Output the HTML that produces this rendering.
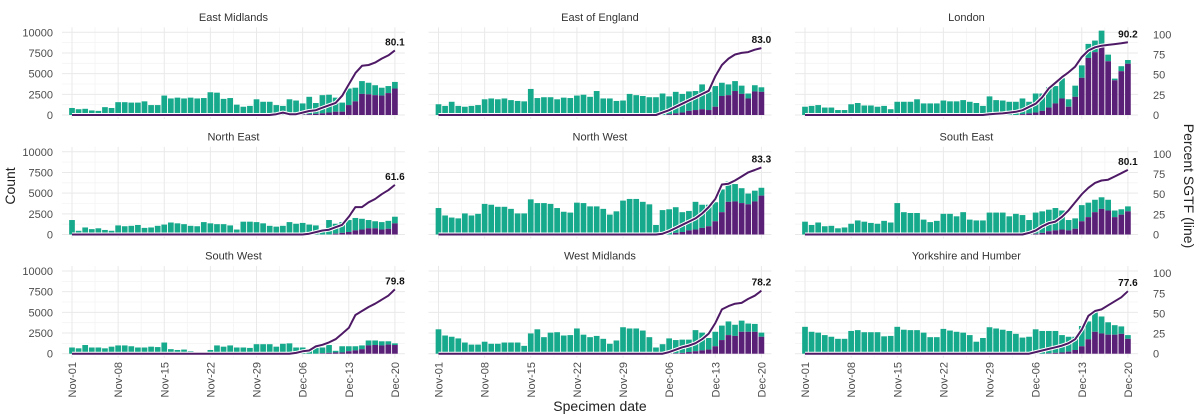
<!DOCTYPE html>
<html><head><meta charset="utf-8"><style>
html,body{margin:0;padding:0;background:#fff;}
svg{display:block;font-family:"Liberation Sans",sans-serif;}
</style></head><body>
<svg id="chart" width="1200" height="416" viewBox="0 0 1200 416" xmlns="http://www.w3.org/2000/svg">
<text x="0" y="0" transform="translate(15,186) rotate(-90)" text-anchor="middle" font-size="14" fill="#222">Count</text>
<text x="0" y="0" transform="translate(1184,186) rotate(90)" text-anchor="middle" font-size="14" fill="#222">Percent SGTF (line)</text>
<text x="600" y="411" text-anchor="middle" font-size="14" fill="#222">Specimen date</text>
</svg>
<script>
const regions = ["East Midlands","East of England","London","North East","North West","South East","South West","West Midlands","Yorkshire and Humber"];
const xTickLabels = ["Nov-01","Nov-08","Nov-15","Nov-22","Nov-29","Dec-06","Dec-13","Dec-20"];
const countTicks = [0,2500,5000,7500,10000];
const pctTicks = [0,25,50,75,100];
const finalLabels = ["80.1","83.0","90.2","61.6","83.3","80.1","79.8","78.2","77.6"];

// totals (thousands)
const totEM = [0.85,0.7,0.75,0.55,0.5,0.95,0.85,1.55,1.55,1.5,1.5,1.65,1.2,1.2,2.35,2.0,2.1,2.0,2.1,2.0,2.05,2.75,2.7,1.95,2.05,1.25,1.0,1.1,1.9,1.6,1.6,1.2,1.1,1.9,1.75,1.4,2.2,1.45,2.4,2.45,2.1,1.5,3.2,3.3,4.1,3.9,3.6,3.3,3.5,4.0];
const totEE = [1.3,1.1,1.6,1.1,1.0,1.1,1.2,1.9,2.0,1.9,2.0,1.8,1.7,1.65,3.15,2.05,2.15,2.15,1.9,2.1,2.05,2.35,2.45,2.2,2.9,2.0,2.0,1.7,1.75,2.55,2.4,2.3,2.15,2.15,2.6,2.25,2.8,2.55,2.85,2.9,3.7,2.8,3.5,3.9,3.7,4.1,3.55,2.6,3.6,3.35];
const totLO = [1.0,1.1,1.2,0.9,0.9,0.6,0.6,1.3,1.45,1.15,1.15,1.0,1.1,0.7,1.6,1.6,1.6,1.9,1.4,1.4,1.4,1.75,1.65,1.65,1.8,1.6,1.45,1.1,2.25,1.8,1.75,1.6,1.6,2.0,1.6,2.6,2.6,3.35,3.5,4.45,1.9,3.55,6.0,8.6,9.0,10.2,7.3,4.4,5.9,6.65];
const totNE = [1.75,0.45,0.85,0.65,0.75,0.55,0.45,1.1,1.0,1.05,1.15,0.8,0.85,1.05,1.2,1.45,1.35,1.25,1.05,1.0,1.5,1.35,1.25,1.25,1.1,0.6,1.55,1.55,1.5,1.35,1.05,0.95,1.05,1.5,1.3,1.4,1.2,1.1,0.65,1.75,1.3,1.5,1.75,2.0,1.9,1.75,1.6,1.5,1.65,2.15];
const totNW = [3.2,2.3,2.05,1.95,2.55,2.3,2.5,3.7,3.6,3.35,3.35,3.1,2.55,2.55,4.25,3.8,3.8,3.7,3.2,2.75,2.65,3.85,3.8,3.4,3.4,3.1,2.4,2.8,4.1,4.3,4.3,3.95,3.65,1.15,2.95,3.05,3.3,2.7,2.85,3.95,3.6,3.6,3.9,5.45,6.4,6.1,5.6,4.95,5.3,5.65];
const totSE = [1.55,1.15,1.45,1.0,1.05,0.75,0.85,1.3,1.7,1.55,1.4,1.3,1.65,1.45,3.8,2.7,2.6,2.6,1.8,1.5,1.65,2.5,2.5,2.2,2.7,1.8,1.7,1.7,2.65,2.65,2.65,2.2,2.5,2.35,1.75,2.65,2.8,3.0,3.2,2.9,1.75,1.95,3.55,3.85,4.2,4.5,4.2,2.9,3.05,3.4];
const totSW = [0.75,0.65,1.05,0.75,0.75,0.65,0.85,1.0,1.0,0.9,0.75,0.75,0.85,0.8,1.35,0.55,0.45,0.5,0.3,0.2,0.2,0.45,1.0,0.85,1.0,0.75,0.75,0.7,1.15,1.15,1.15,0.85,1.2,1.25,0.75,0.75,0.35,0.7,0.75,1.05,0.35,0.9,0.9,0.9,1.0,1.6,1.6,1.5,1.5,1.25];
const totWM = [2.95,2.2,2.05,1.85,1.35,1.1,1.1,1.45,1.2,1.2,1.35,1.35,1.35,0.95,2.45,2.95,2.0,2.55,2.6,2.2,2.25,3.05,2.3,2.0,2.15,1.8,1.2,1.6,3.2,3.05,3.05,2.8,2.0,0.75,1.15,1.85,1.65,1.7,1.7,2.85,2.55,1.9,2.65,3.4,3.9,3.5,4.0,3.65,3.6,2.55];
const totYH = [3.25,2.65,2.55,2.25,2.05,1.8,1.8,2.75,2.85,2.6,2.6,2.6,2.1,2.15,3.25,2.9,2.85,2.85,2.55,2.0,2.0,3.0,2.8,2.65,2.55,2.25,1.45,1.9,3.2,3.05,2.9,2.75,2.4,1.95,2.05,2.95,2.75,2.75,2.75,2.25,2.05,2.05,3.35,3.9,5.0,4.5,3.8,3.45,3.3,2.25];

// SGTF counts (thousands)
const sgEM = [0,0,0,0,0,0,0,0,0,0, 0,0,0,0,0,0,0,0,0,0, 0,0,0,0,0,0,0,0,0,0, 0,0,0,0,0, 0.05,0.1,0.15,0.2,0.3,0.4,0.4,1.2,1.65,2.55,2.5,2.4,2.35,2.65,3.2];
const sgEE = [0,0,0,0,0,0,0,0,0,0, 0,0,0,0,0,0,0,0,0,0, 0,0,0,0,0,0,0,0,0,0, 0,0,0,0,0, 0.1,0.2,0.3,0.5,0.6,0.7,0.6,1.0,2.3,2.4,2.9,2.55,2.0,2.85,2.8];
const sgLO = [0,0,0,0,0,0,0,0,0,0, 0,0,0,0,0,0,0,0,0,0, 0,0,0,0,0,0,0,0,0,0, 0,0,0, 0.1,0.2,0.3,0.5,0.9,1.4,2.0,1.0,2.2,4.5,6.9,7.6,8.6,6.5,4.2,5.3,6.2];
const sgNE = [0,0,0,0,0,0,0,0,0,0, 0,0,0,0,0,0,0,0,0,0, 0,0,0,0,0,0,0,0,0,0, 0,0,0,0,0,0,0,0,0,0, 0.1,0.2,0.3,0.5,0.6,0.75,0.75,0.6,0.7,1.35];
const sgNW = [0,0,0,0,0,0,0,0,0,0, 0,0,0,0,0,0,0,0,0,0, 0,0,0,0,0,0,0,0,0,0, 0,0,0,0,0,0, 0.2,0.3,0.5,0.6,0.8,1.0,1.6,2.7,3.95,4.0,3.8,3.65,4.0,4.7];
const sgSE = [0,0,0,0,0,0,0,0,0,0, 0,0,0,0,0,0,0,0,0,0, 0,0,0,0,0,0,0,0,0,0, 0,0,0,0,0, 0.1,0.2,0.4,0.5,0.6,0.5,0.7,1.6,2.1,2.7,3.1,2.9,2.1,2.4,2.8];
const sgSW = [0,0,0,0,0,0,0,0,0,0, 0,0,0,0,0,0,0,0,0,0, 0,0,0,0,0,0,0,0,0,0, 0,0,0,0,0,0,0,0, 0.05,0.1,0.15,0.15,0.3,0.4,0.55,1.0,1.05,1.0,1.1,1.05];
const sgWM = [0,0,0,0,0,0,0,0,0,0, 0,0,0,0,0,0,0,0,0,0, 0,0,0,0,0,0,0,0,0,0, 0,0,0,0,0,0, 0.05,0.1,0.2,0.3,0.4,0.5,0.9,1.65,2.25,2.15,2.65,2.65,2.65,2.05];
const sgYH = [0,0,0,0,0,0,0,0,0,0, 0,0,0,0,0,0,0,0,0,0, 0,0,0,0,0,0,0,0,0,0, 0,0,0,0,0,0,0, 0.05,0.1,0.15,0.25,0.45,0.9,1.75,2.65,2.45,2.3,2.3,2.4,1.8];

// percent SGTF line
const pcEM = [0,0,0,0,0,0,0,0,0,0, 0,0,0,0,0,0,0,0,0,0, 0,0,0,0,0,0,0,0,0,0, 0, 1,3,1,1,3,5,6,9,12,15,24,38,52,61,62,65,70,74,80.1];
const pcEE = [0,0,0,0,0,0,0,0,0,0, 0,0,0,0,0,0,0,0,0,0, 0,0,0,0,0,0,0,0,0,0, 0,0,0,0, 3,6,10,14,18,22,26,30,48,62,70,75,77,78,81,83.0];
const pcLO = [0,0,0,0,0,0,0,0,0,0, 0,0,0,0,0,0,0,0,0,0, 0,0,0,0,0,0,0,0, 1,1.5,2,3,4,6,10,14,22,33,40,47,53,60,72,80,84,86,87,88,89,90.2];
const pcNE = [0,0,0,0,0,0,0,0,0,0, 0,0,0,0,0,0,0,0,0,0, 0,0,0,0,0,0,0,0,0,0, 0,0,0,0,0,0, 1,3,5,6,9,12,22,34,34,40,44,50,55,61.6];
const pcNW = [0,0,0,0,0,0,0,0,0,0, 0,0,0,0,0,0,0,0,0,0, 0,0,0,0,0,0,0,0,0,0, 0,0,0,0, 1,4,8,12,16,20,26,34,44,62,63,67,72,77,80,83.3];
const pcSE = [0,0,0,0,0,0,0,0,0,0, 0,0,0,0,0,0,0,0,0,0, 0,0,0,0,0,0,0,0,0,0, 0,0,0,0, 2,5,10,14,16,22,30,40,50,58,64,67,68,72,76,80.1];
const pcSW = [0,0,0,0,0,0,0,0,0,0, 0,0,0,0,0,0,0,0,0,0, 0,0,0,0,0,0,0,0,0,0, 0,0,0,0, 1,3,4,9,11,14,18,25,32,48,53,58,62,67,72,79.8];
const pcWM = [0,0,0,0,0,0,0,0,0,0, 0,0,0,0,0,0,0,0,0,0, 0,0,0,0,0,0,0,0,0,0, 0,0,0,0,0, 2,5,8,10,13,18,25,38,55,59,62,63,68,72,78.2];
const pcYH = [0,0,0,0,0,0,0,0,0,0, 0,0,0,0,0,0,0,0,0,0, 0,0,0,0,0,0,0,0,0,0, 0,0,0,0,0, 2,4,6,8,10,13,18,30,47,53,55,60,65,70,77.6];

const totals = [totEM,totEE,totLO,totNE,totNW,totSE,totSW,totWM,totYH];
const sgtf = [sgEM,sgEE,sgLO,sgNE,sgNW,sgSE,sgSW,sgWM,sgYH];
const pcts = [pcEM,pcEE,pcLO,pcNE,pcNW,pcSE,pcSW,pcWM,pcYH];

const NS = "http://www.w3.org/2000/svg";
const svg = document.getElementById('chart');
const colX0 = [72, 438.5, 805];
const rowY0 = [115, 234.5, 353.7];
const dayW = 6.59;
const barW = 5.7;
const pxPerK = 8.27;
const pxPerPct = 0.806;
function mk(tag, attrs, parent){ const e=document.createElementNS(NS,tag); for(const k in attrs) e.setAttribute(k,attrs[k]); (parent||svg).appendChild(e); return e; }

regions.forEach((name, r) => {
  const col = r % 3, row = Math.floor(r / 3);
  const x = d => colX0[col] + d * dayW;
  const yC = v => rowY0[row] - v * pxPerK;
  const yP = p => rowY0[row] - p * pxPerPct;
  const g = mk('g', {});
  
  
  const gx0 = x(0) - 10, gx1 = x(49) + 10, gyB = rowY0[row] + 4, gyT = yC(10.6);
  // minor grid
  for (let k = 0; k < 7; k++) {
    const xx = x(3.5 + 7 * k);
    const l = mk('line', {x1: xx, x2: xx, y1: gyT, y2: gyB, stroke: '#f4f4f4', 'stroke-width': 0.8}, g);
    
    
  }
  for (let k = 0; k < 4; k++) {
    const yy = yC(1.25 + 2.5 * k);
    const l = mk('line', {x1: gx0, x2: gx1, y1: yy, y2: yy, stroke: '#f4f4f4', 'stroke-width': 0.8}, g);
    
    
  }
  xTickLabels.forEach((t, k) => {
    const xx = x(7 * k);
    const l = mk('line', {x1: xx, x2: xx, y1: gyT, y2: gyB, stroke: '#e9e9e9', 'stroke-width': 1}, g);
    
    
  });
  countTicks.forEach(v => {
    const yy = yC(v / 1000);
    const l = mk('line', {x1: gx0, x2: gx1, y1: yy, y2: yy, stroke: '#e9e9e9', 'stroke-width': 1}, g);
    
    
  });
  // strip title
  const st = mk('text', {x: (gx0 + gx1) / 2, y: rowY0[row] - 94, 'text-anchor': 'middle', 'font-size': 11, fill: '#333'}, g);
  st.textContent = name;
  
  
  // bars
  totals[r].forEach((v, d) => {
    const s = sgtf[r][d];
    const b = mk('rect', {x: x(d) - barW / 2, y: yC(v), width: barW, height: (v - s) * pxPerK, fill: '#17a98b'}, g);
    
    
    if (s > 0) {
      const p = mk('rect', {x: x(d) - barW / 2, y: yC(s), width: barW, height: s * pxPerK, fill: '#5a2077'}, g);
      
      
    }
  });
  // line
  const pts = pcts[r].map((p, d) => x(d).toFixed(1) + ',' + yP(p).toFixed(1)).join(' ');
  const halo = mk('polyline', {points: pts, fill: 'none', stroke: '#fff', 'stroke-width': 4, 'stroke-linejoin': 'round'}, g);
  
  
  const ln = mk('polyline', {points: pts, fill: 'none', stroke: '#4e1a66', 'stroke-width': 2, 'stroke-linejoin': 'round'}, g);
  
  
  const last = pcts[r][49];
  const lb = mk('text', {x: x(49), y: yP(last) - 5, 'text-anchor': 'middle', 'font-size': 10, 'font-weight': 'bold', fill: '#111'}, g);
  lb.textContent = finalLabels[r];
  
  
  // left axis
  if (col === 0) {
    countTicks.forEach(v => {
      const t = mk('text', {x: 53, y: yC(v / 1000) + 4, 'text-anchor': 'end', 'font-size': 11, fill: '#4d4d4d'}, svg);
      t.textContent = String(v);
      
      
    });
  }
  if (col === 2) {
    pctTicks.forEach(p => {
      const t = mk('text', {x: 1153, y: yP(p) + 4, 'text-anchor': 'start', 'font-size': 11, fill: '#4d4d4d'}, svg);
      t.textContent = String(p);
      
      
    });
  }
  if (row === 2) {
    xTickLabels.forEach((lab, k) => {
      const xx = x(7 * k) + 4;
      const t = mk('text', {x: 0, y: 0, transform: 'translate(' + xx + ',362) rotate(-90)', 'text-anchor': 'end', 'font-size': 11, fill: '#4d4d4d'}, svg);
      t.textContent = lab;
      
      
    });
  }
});
</script>
</body></html>
